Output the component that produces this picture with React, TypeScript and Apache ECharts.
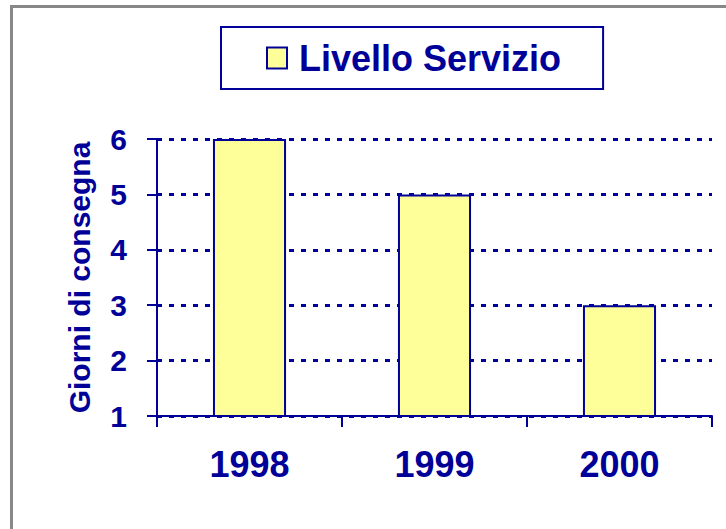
import React, { useEffect, useRef } from "react";
import * as echarts from "echarts";

const categories = ["1998", "1999", "2000"];
const seriesName = "Livello Servizio";
const values = [6, 5, 3];
const yTitle = "Giorni di consegna";

const BLUE = "#000099";
const FONT = "'Liberation Sans', Arial, sans-serif";

export default function App() {
  const ref = useRef<HTMLDivElement>(null);
  useEffect(() => {
    if (!ref.current) return;
    const chart = echarts.init(ref.current, null, { renderer: "svg" });
    chart.setOption({
      animation: false,
      backgroundColor: "#ffffff",
      textStyle: { fontFamily: FONT },
      graphic: [
        {
          type: "rect",
          shape: { x: 11.5, y: 6.5, width: 900, height: 700 },
          style: { fill: "none", stroke: "#888888", lineWidth: 3 },
          silent: true,
        },
      ],
      legend: {
        left: 221,
        top: 27,
        padding: [13, 42, 13, 45],
        borderColor: BLUE,
        borderWidth: 2,
        itemWidth: 20,
        itemHeight: 21,
        icon: "rect",
        textStyle: {
          fontFamily: FONT,
          fontWeight: "bold",
          fontSize: 36,
          color: BLUE,
          lineHeight: 36,
          padding: [0, 0, 0, 7],
        },
        data: [seriesName],
      },
      grid: { left: 157, top: 139, right: 14, bottom: 113, containLabel: false },
      xAxis: {
        type: "category",
        data: categories,
        boundaryGap: true,
        axisLine: { lineStyle: { color: BLUE, width: 2 } },
        axisTick: { show: true, length: 11, alignWithLabel: false, lineStyle: { color: BLUE, width: 2 } },
        axisLabel: {
          margin: 30,
          fontFamily: FONT,
          fontWeight: "bold",
          fontSize: 36,
          color: BLUE,
        },
      },
      yAxis: {
        type: "value",
        min: 1,
        max: 6,
        interval: 1,
        name: yTitle,
        nameLocation: "middle",
        nameRotate: 90,
        nameGap: 63,
        nameTextStyle: { fontFamily: FONT, fontWeight: "bold", fontSize: 30, color: BLUE },
        axisLine: { show: true, lineStyle: { color: BLUE, width: 2 } },
        axisTick: { show: true, length: 10, lineStyle: { color: BLUE, width: 2 } },
        axisLabel: {
          margin: 30,
          fontFamily: FONT,
          fontWeight: "bold",
          fontSize: 30,
          color: BLUE,
        },
        splitLine: { show: true, lineStyle: { color: BLUE, width: 3, type: [5, 7] } },
      },
      series: [
        {
          name: seriesName,
          type: "bar",
          data: values,
          barWidth: "39.5%",
          itemStyle: { color: "#FFFF99", borderColor: BLUE, borderWidth: 2 },
        },
      ],
    });
    return () => chart.dispose();
  }, []);
  return (
    <div
      ref={ref}
      style={{ position: "absolute", left: 0, top: 0, width: 726, height: 529 }}
    />
  );
}
